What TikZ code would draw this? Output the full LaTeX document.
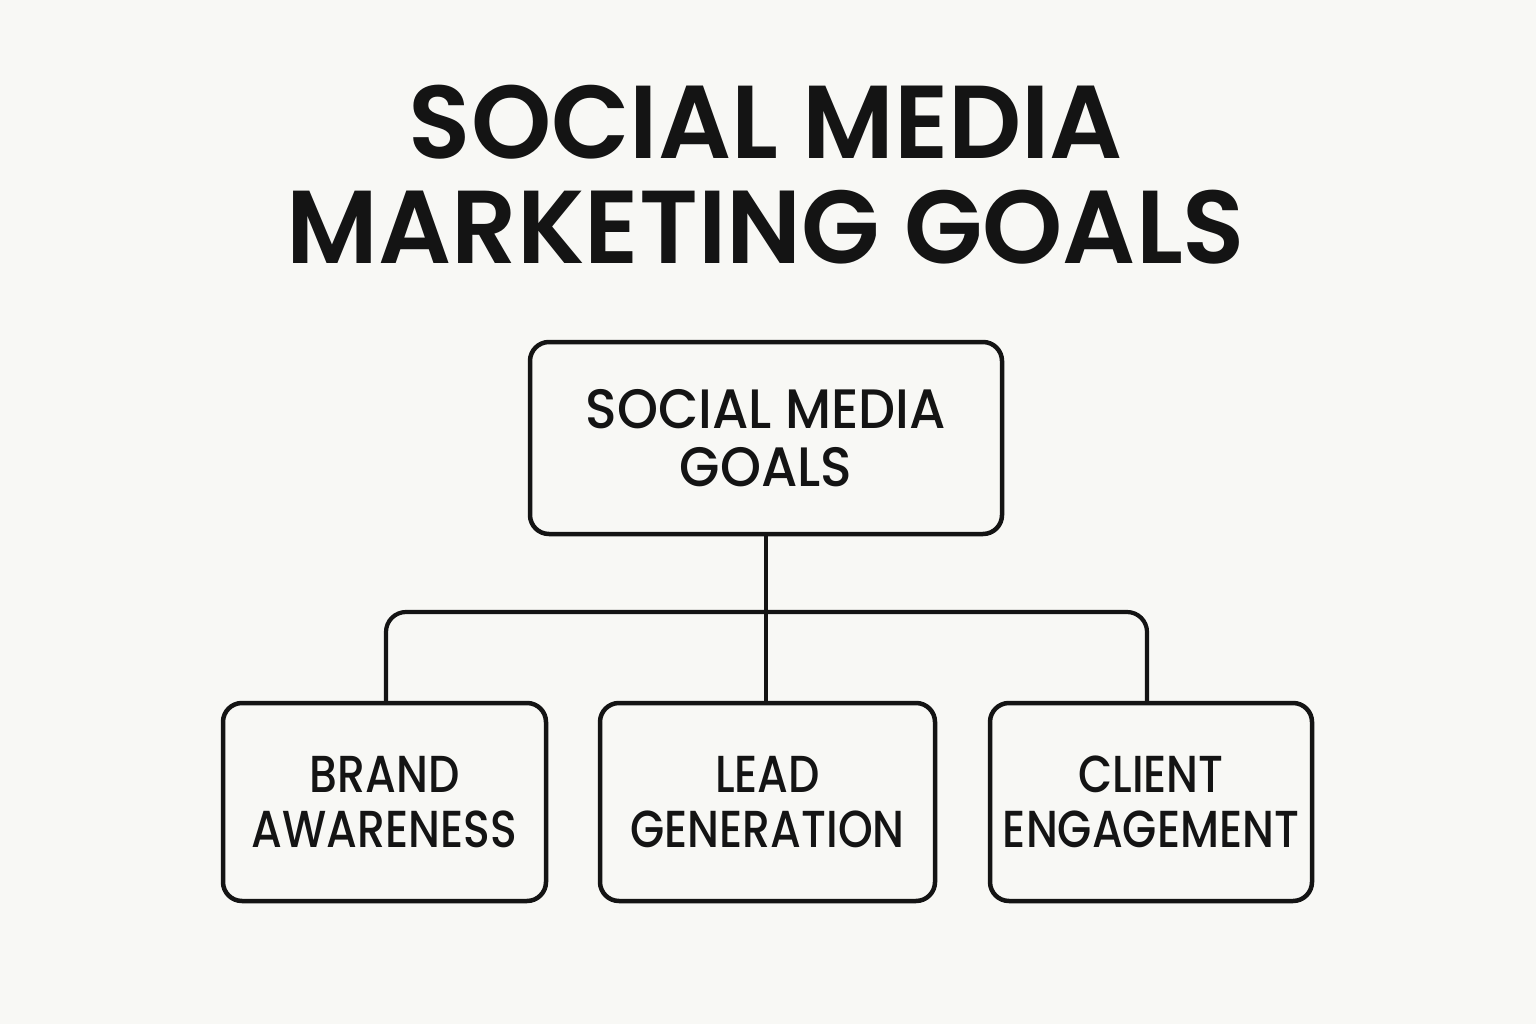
\documentclass[tikz,border=0pt]{standalone}
\usepackage{fontspec}
\setmainfont{Poppins}
\newfontfamily\titlefont{Poppins}[UprightFont=*-SemiBold, FakeStretch=0.985]
\newfontfamily\boxfont{Poppins}[UprightFont=*-Medium, FakeStretch=0.85]
\newfontfamily\topboxfont{Poppins}[UprightFont=*-Medium, FakeStretch=0.94]
\definecolor{paper}{RGB}{248, 248, 245}
\definecolor{ink}{RGB}{20, 20, 20}
\tikzset{
  goalbox/.style={draw=ink, line width=0.45mm, rounded corners=0.19cm, align=center,
    inner sep=0pt, font=\boxfont\fontsize{14.8}{15.6}\selectfont, text=ink},
  link/.style={draw=ink, line width=0.42mm, rounded corners=0.2cm}
}
\begin{document}
\begin{tikzpicture}
          % background
          \fill[paper] (0,0) rectangle (15.36,10.24);
          \useasboundingbox (0,0) rectangle (15.36,10.24);

          % Title
          \node[font=\titlefont\fontsize{29.5}{29.8}\selectfont, align=center, text=ink] (title) at (7.66,8.49) {SOCIAL MEDIA\\MARKETING GOALS};

          % Boxes
          \node[goalbox, minimum width=4.72cm, minimum height=1.92cm, font=\topboxfont\fontsize{15.8}{16.4}\selectfont] (goals) at (7.66,5.86) {SOCIAL MEDIA\\GOALS};
          \node[goalbox, minimum width=3.23cm, minimum height=1.98cm] (brand) at (3.845,2.22) {BRAND\\AWARENESS};
          \node[goalbox, minimum width=3.35cm, minimum height=1.98cm] (lead) at (7.675,2.22) {LEAD\\GENERATION};
          \node[goalbox, minimum width=3.22cm, minimum height=1.98cm] (client) at (11.51,2.22) {CLIENT\\ENGAGEMENT};

          % Connectors
          \coordinate (bar) at (7.66,4.12);
          \draw[link] (goals.south) -- (goals.south |- lead.north);
          \draw[link] (brand.north -| 3.86,0) |- (bar) -| (client.north -| 11.47,0);
        \end{tikzpicture}
\end{document}
